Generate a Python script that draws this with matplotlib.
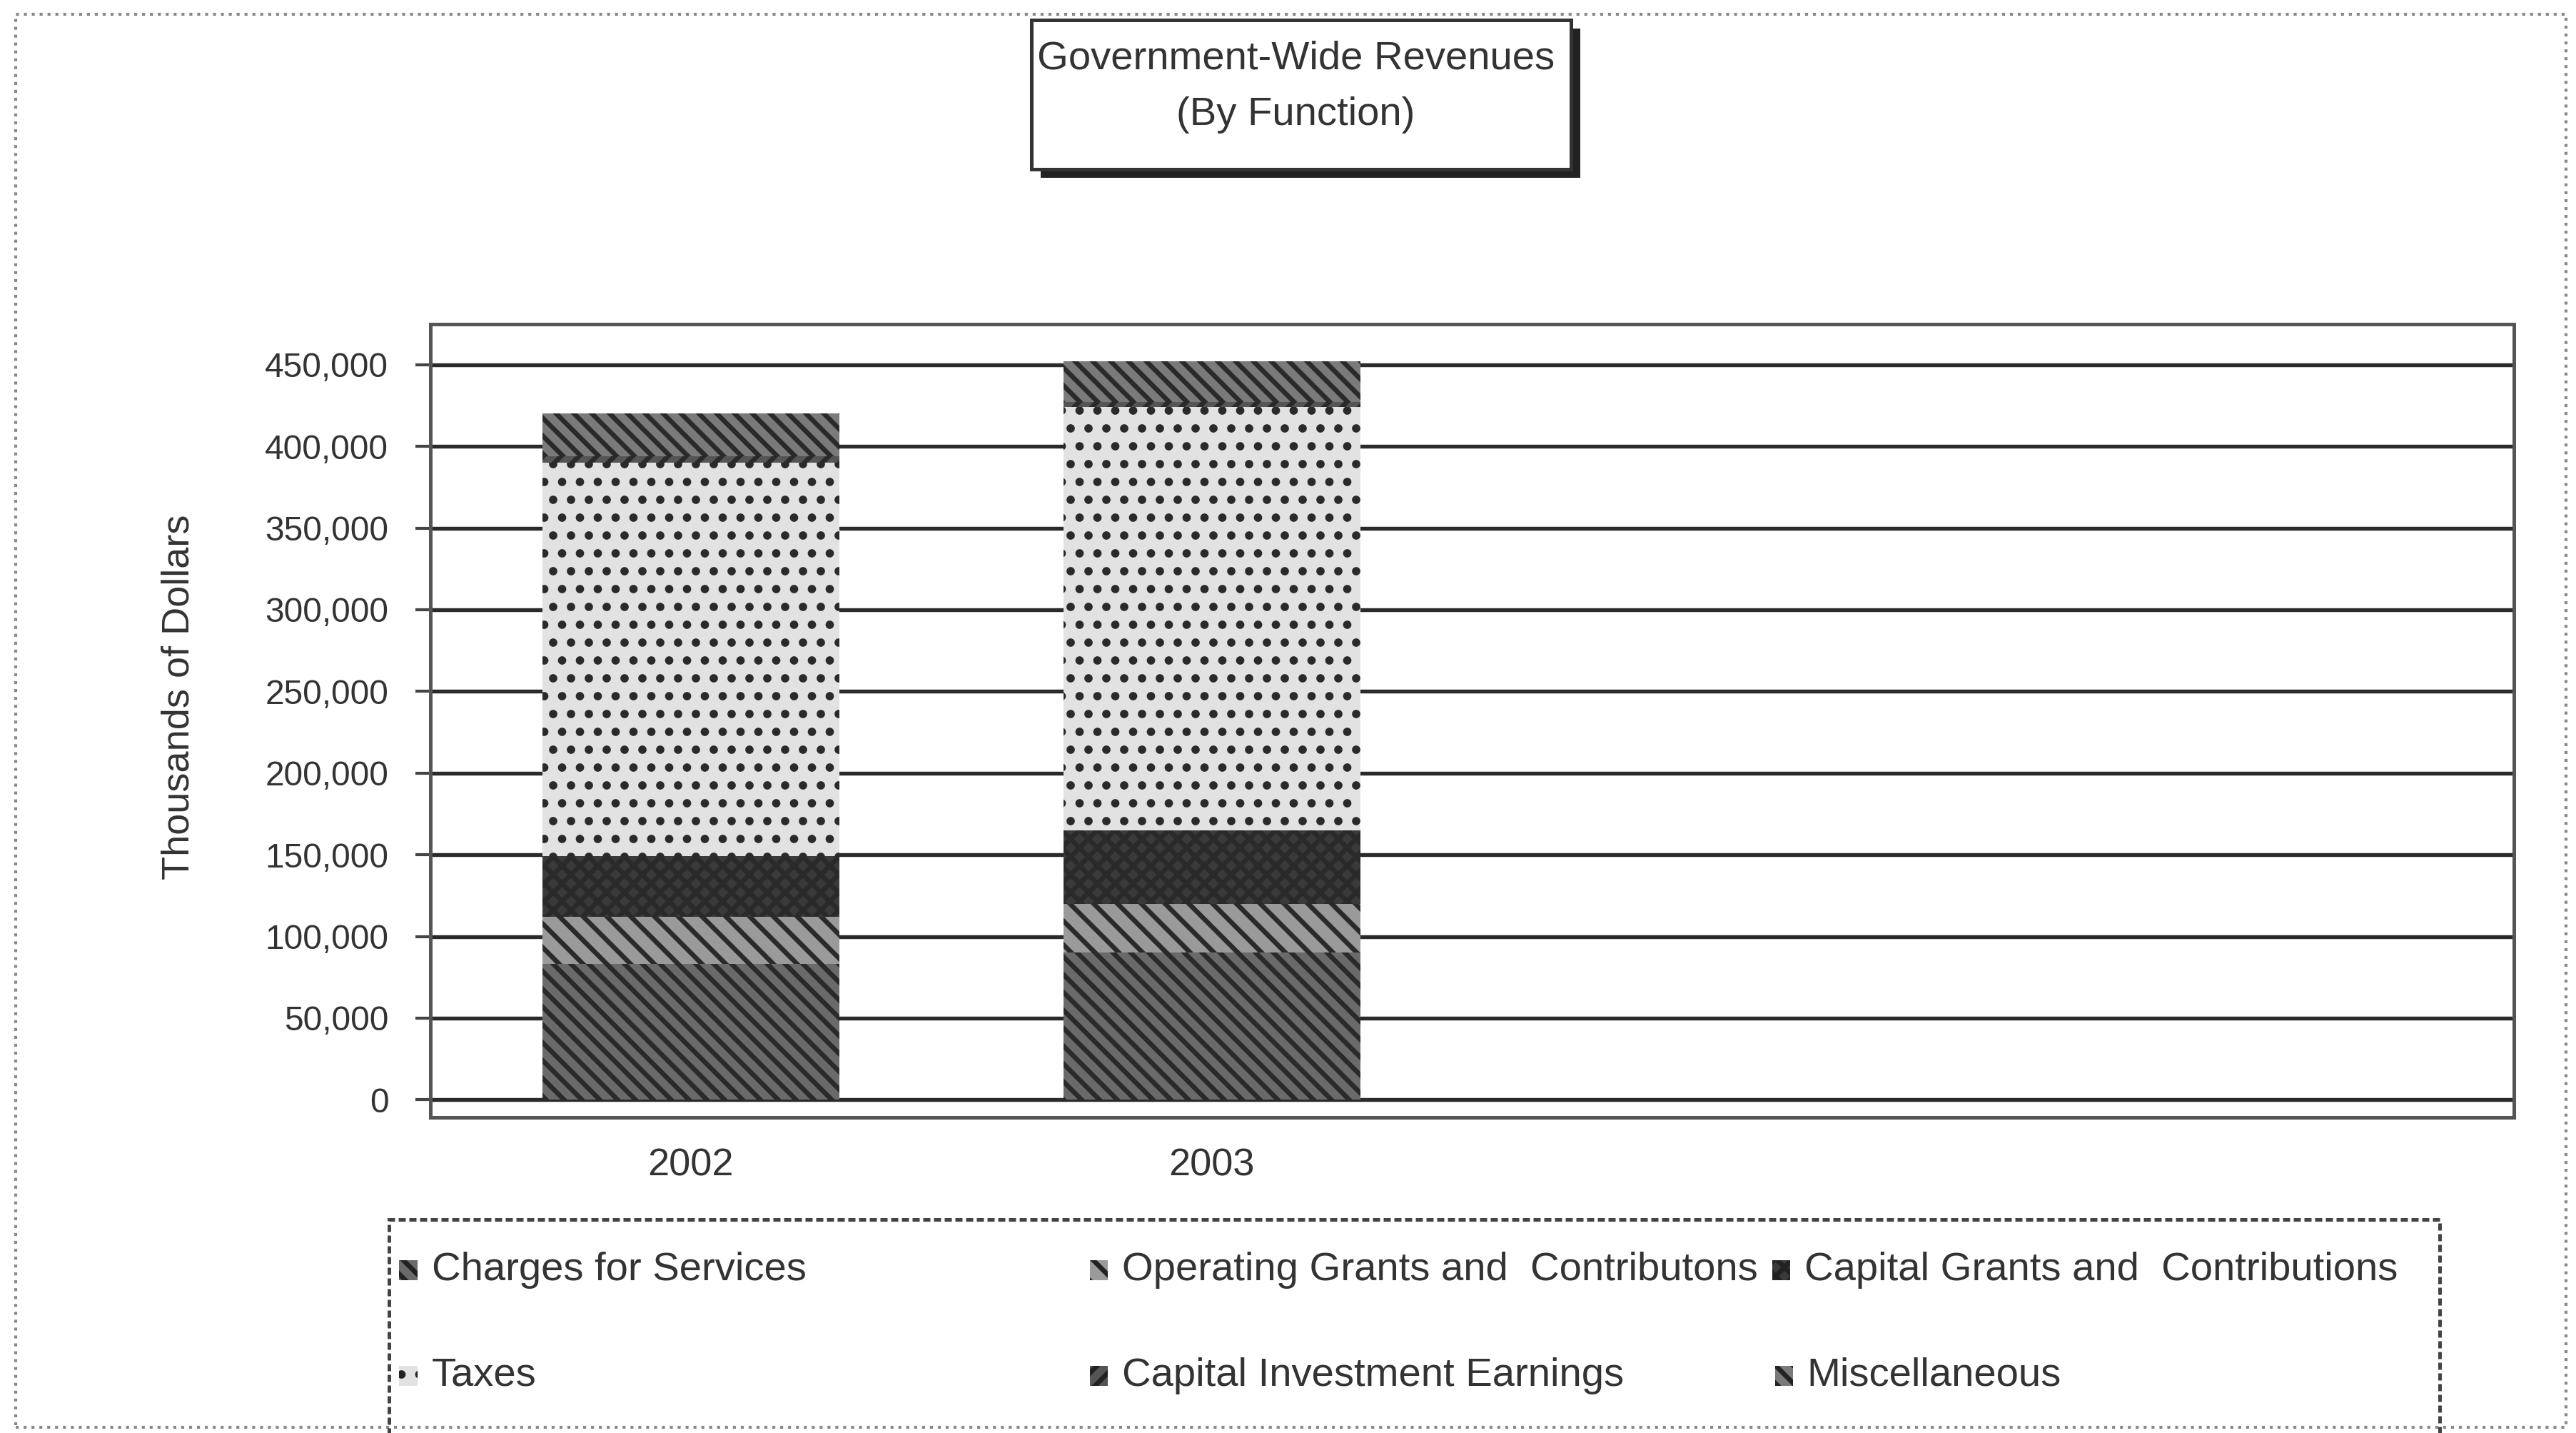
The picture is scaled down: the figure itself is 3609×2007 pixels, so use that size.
import matplotlib.pyplot as plt
import numpy as np
from matplotlib.patches import Rectangle

plt.rcParams['font.family'] = ['Liberation Sans', 'DejaVu Sans']
plt.rcParams['hatch.linewidth'] = 1.6

years = ['2002', '2003']
# thousands of dollars
charges = [83000, 90000]
operating = [29000, 30000]
capital_grants = [37000, 45000]
taxes = [241000, 259000]
invest = [4000, 3000]
misc = [26000, 25000]

series = [
    ('Charges for Services', charges, '#6a6a6a', '\\\\\\\\'),
    ('Operating Grants and  Contributons', operating, '#9a9a9a', '\\\\\\'),
    ('Capital Grants and  Contributions', capital_grants, '#3a3a3a', 'xxxx'),
    ('Taxes', taxes, '#e2e2e2', '..'),
    ('Capital Investment Earnings', invest, '#555555', '////'),
    ('Miscellaneous', misc, '#7a7a7a', '\\\\\\\\'),
]

fig = plt.figure(figsize=(3609 / 300, 2007 / 300), dpi=300)
ax = fig.add_axes([0.167, 0.220, 0.809, 0.554])

x = np.arange(len(years))
bottom = np.zeros(len(years))
for name, vals, col, hatch in series:
    ax.bar(x, vals, width=0.57, bottom=bottom, color=col, edgecolor='#2a2a2a',
           hatch=hatch, linewidth=0, zorder=2)
    bottom += np.array(vals)

ax.set_xlim(-0.5, 3.5)
ax.set_ylim(-11000, 475000)
ax.set_yticks(np.arange(0, 450001, 50000))
ax.set_yticklabels(['{:,}'.format(v) for v in range(0, 450001, 50000)], fontsize=11.5, color='#333333')
ax.set_xticks(x)
ax.set_xticklabels(years, fontsize=13, color='#333333')
ax.tick_params(axis='y', length=5, width=1, color='#444444', pad=9)
ax.tick_params(axis='x', length=0, pad=10)
ax.yaxis.grid(True, color='#2a2a2a', linewidth=1.3)
ax.set_axisbelow(True)
for s in ax.spines.values():
    s.set_color('#555555')
    s.set_linewidth(1.2)
ax.set_ylabel('Thousands of Dollars', fontsize=13, color='#333333')
ax.yaxis.set_label_coords(-0.112, 0.53)

# title box with shadow
fig.patches.append(Rectangle((0.404, 0.876), 0.2095, 0.104, transform=fig.transFigure,
                             facecolor='#222222', edgecolor='none', zorder=1))
fig.patches.append(Rectangle((0.4005, 0.882), 0.2095, 0.104, transform=fig.transFigure,
                             facecolor='white', edgecolor='#333333', linewidth=1.2, zorder=2))
fig.text(0.503, 0.959, 'Government-Wide Revenues', ha='center', va='center', fontsize=13.5,
         color='#333333', zorder=3)
fig.text(0.503, 0.920, '(By Function)', ha='center', va='center', fontsize=13.5,
         color='#333333', zorder=3)

# outer dotted border
fig.patches.append(Rectangle((0.006, 0.004), 0.99, 0.986, transform=fig.transFigure,
                             facecolor='none', edgecolor='#888888', linewidth=1.0, linestyle=':'))

# legend box (cut off at bottom like the source)
fig.patches.append(Rectangle((0.151, -0.02), 0.796, 0.169, transform=fig.transFigure,
                             facecolor='none', edgecolor='#444444', linewidth=1.2, linestyle=(0, (2, 1))))
leg_pos = [(0.155, 0.1135), (0.423, 0.1135), (0.688, 0.1135),
           (0.155, 0.040), (0.423, 0.040), (0.689, 0.040)]
for i, (px, py) in enumerate(leg_pos):
    name, vals, col, hatch = series[i]
    fig.patches.append(Rectangle((px, py - 0.007), 0.007, 0.014, transform=fig.transFigure,
                                 facecolor=col, edgecolor='#222222', hatch=hatch, linewidth=0))
    fig.text(px + 0.0125, py, name, ha='left', va='center', fontsize=13.5, color='#333333')

fig.savefig('out.png', dpi=300)
